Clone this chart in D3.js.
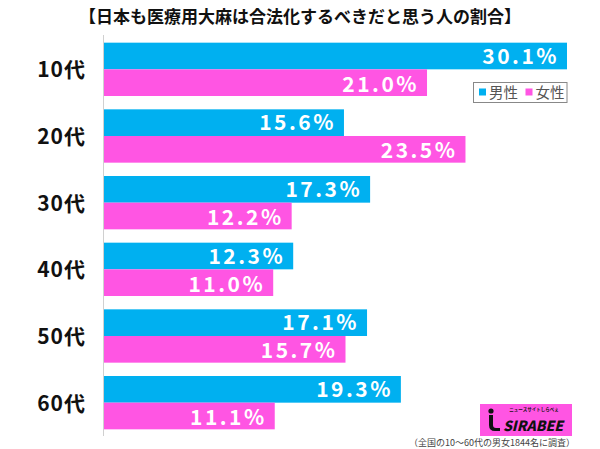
<!DOCTYPE html>
<html><head><meta charset="utf-8">
<script src="https://cdn.jsdelivr.net/npm/d3@7"></script>
<style>
html,body{margin:0;padding:0;background:#fff;}
svg{display:block;}
text{font-family:"Noto Sans CJK JP","Noto Sans",sans-serif;}
</style></head>
<body>
<svg id="chart" width="600" height="449"></svg>
<script>
const title = "【日本も医療用大麻は合法化するべきだと思う人の割合】";
const categories = ["10代","20代","30代","40代","50代","60代"];
const seriesNames = ["男性","女性"];
const maleValues = [30.1, 15.6, 17.3, 12.3, 17.1, 19.3];
const femaleValues = [21.0, 23.5, 12.2, 11.0, 15.7, 11.1];
const colors = ["#00b0f0", "#ff55e3"];
const footnote = "（全国の10～60代の男女1844名に調査）";

const svg = d3.select("#chart");
const x = d3.scaleLinear().domain([0, 30.1]).range([104, 567]);
const y = d3.scaleBand().domain(categories).range([36, 436]).paddingInner(0.2).paddingOuter(0.1);
const ys = d3.scaleBand().domain(seriesNames).range([0, y.bandwidth()]);

svg.append("text").attr("x", 300).attr("y", 23).attr("text-anchor", "middle")
  .attr("font-size", 17).attr("font-weight", 700).attr("fill", "#111").text(title);

// axis line
svg.append("line").attr("x1", 103.5).attr("x2", 103.5).attr("y1", 35).attr("y2", 436)
  .attr("stroke", "#d0d0d0").attr("stroke-width", 1);

const data = [];
categories.forEach((c, i) => {
  data.push({cat: c, s: seriesNames[0], v: maleValues[i], col: colors[0], k: 0});
  data.push({cat: c, s: seriesNames[1], v: femaleValues[i], col: colors[1], k: 1});
});

const g = svg.append("g");
g.selectAll("rect.bar").data(data).join("rect").attr("class", "bar")
  .attr("x", x(0)).attr("y", d => y(d.cat) + ys(d.s))
  .attr("width", d => x(d.v) - x(0)).attr("height", ys.bandwidth())
  .attr("fill", d => d.col);

g.selectAll("text.val").data(data).join("text").attr("class", "val")
  .attr("x", d => x(d.v) - 8)
  .attr("y", d => y(d.cat) + ys(d.s) + ys.bandwidth() / 2 + (d.k === 0 ? 7.5 : 9))
  .attr("text-anchor", "end").attr("font-size", 21).attr("font-weight", 700)
  .attr("font-family", "Roboto, 'Noto Sans', sans-serif")
  .attr("letter-spacing", 2.5).attr("fill", "#fff")
  .text(d => d.v.toFixed(1) + "%");

// category labels
svg.selectAll("text.cat").data(categories).join("text").attr("class", "cat")
  .attr("x", 86).attr("y", d => y(d) + y.bandwidth() / 2 + 8)
  .attr("text-anchor", "end").attr("font-size", 21).attr("font-weight", 700)
  .attr("letter-spacing", 1).attr("fill", "#111").text(d => d);

// legend
const lg = svg.append("g");
lg.append("rect").attr("x", 473.5).attr("y", 82.5).attr("width", 93.5).attr("height", 20)
  .attr("fill", "#fff").attr("stroke", "#888").attr("stroke-width", 1);
seriesNames.forEach((s, i) => {
  const lx = 479 + i * 46.5;
  lg.append("rect").attr("x", lx).attr("y", 88.5).attr("width", 7).attr("height", 7).attr("fill", colors[i]);
  lg.append("text").attr("x", lx + 10).attr("y", 98).attr("font-size", 14.5).attr("fill", "#555").text(s);
});

// logo
const logo = svg.append("g");
logo.append("rect").attr("x", 480).attr("y", 404).attr("width", 92).attr("height", 32).attr("fill", "#ff55e3");
logo.append("circle").attr("cx", 491).attr("cy", 411).attr("r", 2.6).attr("fill", "#111");
logo.append("path").attr("d", "M489,415 L493,415 L493,425 Q493,428 496,428 L500,428 L500,431 L495,431 Q489,431 489,425 Z").attr("fill", "#111");
logo.append("text").attr("x", 534).attr("y", 411).attr("text-anchor", "middle").attr("font-size", 4.5)
  .attr("font-weight", 700).attr("fill", "#111").text("ニュースサイトしらべぇ");
logo.append("text").attr("x", 533).attr("y", 431).attr("text-anchor", "middle").attr("font-size", 14)
  .attr("font-weight", 900).attr("font-style", "italic").attr("fill", "#111")
  .attr("font-family", "'DejaVu Sans','Liberation Sans',sans-serif").text("SIRABEE");

svg.append("text").attr("x", 575).attr("y", 446).attr("text-anchor", "end")
  .attr("font-size", 9).attr("fill", "#444").text(footnote);
</script>
</body></html>
